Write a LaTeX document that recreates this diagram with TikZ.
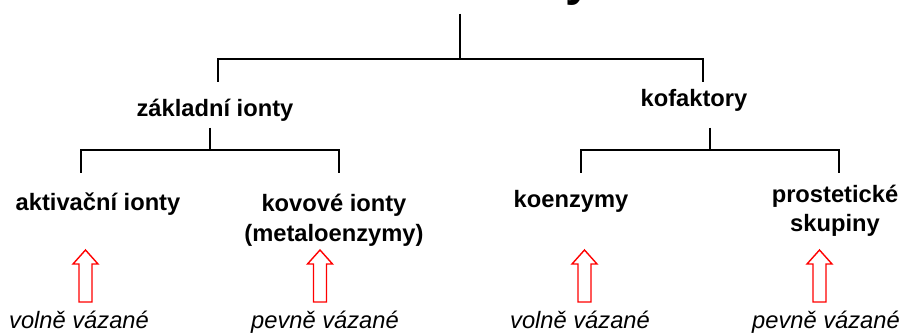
\documentclass[tikz,border=0pt]{standalone}
\usepackage{fontspec}
\setmainfont{Liberation Sans}
\begin{document}
\begin{tikzpicture}[x=1pt,y=-1pt,
  every node/.style={inner sep=0pt, outer sep=0pt, anchor=base, align=center},
  cat/.style={font=\fontsize{23.7}{29}\selectfont\bfseries},
  bond/.style={font=\fontsize{23.7}{29}\selectfont\itshape},
  title/.style={font=\fontsize{48}{56}\selectfont\bfseries, anchor=base east},
  branch/.style={draw=black, line width=1.3pt},
  hollowup/.style={draw=red, line width=1.4pt, fill=white, line join=miter},
  pics/uparrow/.style={code={
    \path[hollowup] (-6.5,0) -- (-6.5,-38) -- (-12.5,-38) -- (0,-52)
      -- (12.5,-38) -- (6.5,-38) -- (6.5,0) -- cycle;}}]
\useasboundingbox (0,0) rectangle (906,334);

% heading (runs off the top edge)
\begin{scope}
  \clip (0,0) rectangle (906,334);
  \node[title] (head) at (592,-4) {Kofaktory};
\end{scope}

% tree anchors
\coordinate (root) at (460,14);
\coordinate (zt) at (218,82);
\coordinate (kt) at (703,82);
\coordinate (zb) at (210,128);
\coordinate (kb) at (710,128);
\coordinate (at) at (81,173);
\coordinate (mt) at (339,173);
\coordinate (ct) at (581,173);
\coordinate (pt) at (839,173);

% categories (multi-line nodes sit on their last baseline)
\node[cat] (zakl) at (215,117) {základní ionty};
\node[cat] (kof)  at (694,107) {kofaktory};
\node[cat] (akt)  at (98,211)  {aktivační ionty};
\node[cat] (kov)  at (334,241) {kovové ionty\\(metaloenzymy)};
\node[cat] (koen) at (571,208) {koenzymy};
\node[cat] (pros) at (835,232) {prostetické\\skupiny};

% branches
\draw[branch] (root) -- ++(0,45) -| (zt);
\draw[branch] (root) -- ++(0,45) -| (kt);
\draw[branch] (zb) -- ++(0,22) -| (at);
\draw[branch] (zb) -- ++(0,22) -| (mt);
\draw[branch] (kb) -- ++(0,22) -| (ct);
\draw[branch] (kb) -- ++(0,22) -| (pt);

% binding type
\node[bond] (b1) at (79,328)  {volně vázané};
\node[bond] (b2) at (325,328) {pevně vázané};
\node[bond] (b3) at (580,328) {volně vázané};
\node[bond] (b4) at (826,328) {pevně vázané};

\pic at (85.5,302) {uparrow};
\pic at (320,302) {uparrow};
\pic at (584.5,302) {uparrow};
\pic at (819.5,302) {uparrow};
\end{tikzpicture}
\end{document}
